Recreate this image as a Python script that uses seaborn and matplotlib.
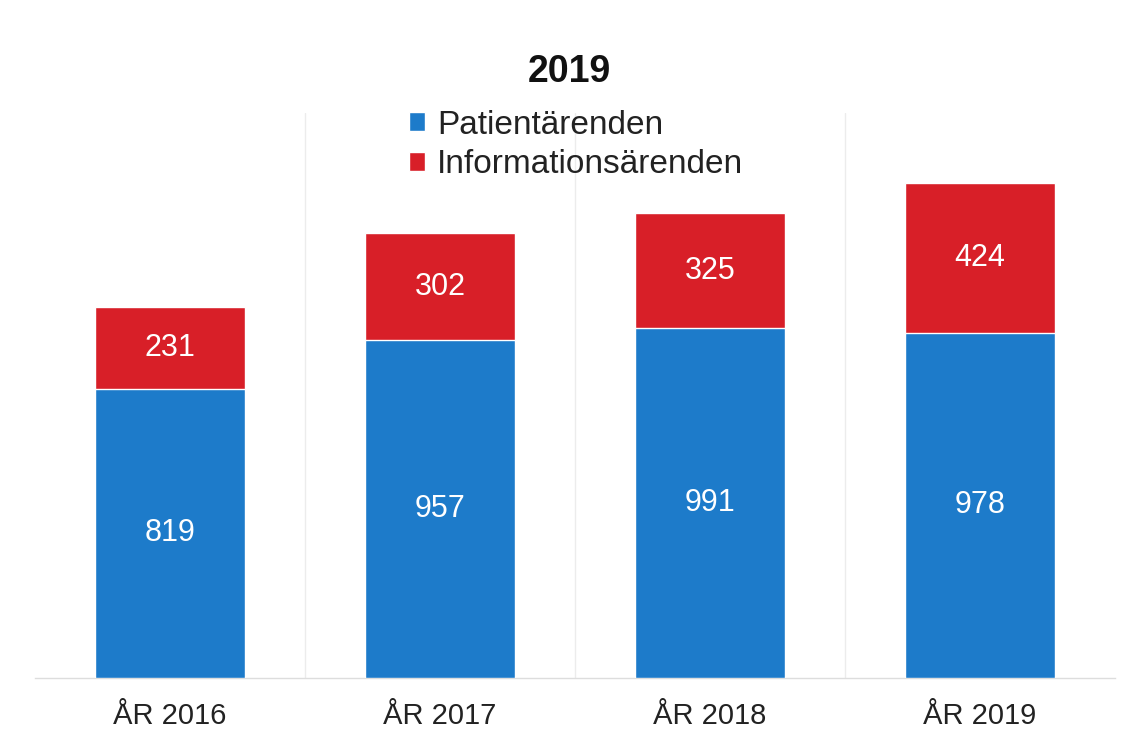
import numpy as np
import pandas as pd
import matplotlib
matplotlib.use("Agg")
import matplotlib.pyplot as plt
from matplotlib.patches import Patch
import seaborn as sns

# Data
years = ["ÅR 2016", "ÅR 2017", "ÅR 2018", "ÅR 2019"]
patient = [819, 957, 991, 978]
information = [231, 302, 325, 424]
series_names = ["Patientärenden", "Informationsärenden"]

BLUE = "#1d7bca"
RED = "#d81f28"

sns.set_theme(style="white")
plt.rcParams["font.family"] = ["Liberation Sans", "DejaVu Sans"]

df = pd.DataFrame({"year": years, "patient": patient, "information": information})
df["total"] = df["patient"] + df["information"]

fig = plt.figure(figsize=(11.28, 7.38), dpi=100)
ax = fig.add_axes([35 / 1128, 1 - 678 / 738, 1080 / 1128, 565 / 738])

# stacked bars: total (red) behind, patient (blue) in front
sns.barplot(data=df, x="year", y="total", color=RED, width=0.555,
            saturation=1, ax=ax, zorder=2)
sns.barplot(data=df, x="year", y="patient", color=BLUE, width=0.555,
            saturation=1, ax=ax, zorder=3)

ax.set_ylim(0, 1600)
ax.set_xlim(-0.5, len(years) - 0.5)
ax.set_xlabel("")
ax.set_ylabel("")
ax.set_yticks([])

# value labels
for i, row in df.iterrows():
    ax.text(i, row["patient"] / 2, f"{row['patient']}", color="white",
            ha="center", va="center", fontsize=22, zorder=4)
    ax.text(i, row["patient"] + row["information"] / 2, f"{row['information']}",
            color="white", ha="center", va="center", fontsize=22, zorder=4)

# faint category separators
ax.set_xticks(np.arange(len(years) - 1) + 0.5, minor=True)
ax.grid(False)
ax.grid(which="minor", axis="x", color="#ececec", linewidth=1)
ax.tick_params(axis="x", which="both", length=0)
ax.tick_params(axis="x", which="major", labelsize=21, pad=17, labelcolor="#222222")

for s in ["top", "left", "right"]:
    ax.spines[s].set_visible(False)
ax.spines["bottom"].set_color("#dddddd")
ax.spines["bottom"].set_linewidth(1)

fig.text(0.505, 1 - 72 / 738, "2019", ha="center", va="center",
         fontsize=27, fontweight="bold", color="#111111")

handles = [Patch(facecolor=BLUE, label=series_names[0]),
           Patch(facecolor=RED, label=series_names[1])]
fig.legend(handles=handles, loc="upper left",
           bbox_to_anchor=(392 / 1128, 1 - 93 / 738), frameon=False,
           fontsize=24, handlelength=0.5, handleheight=0.5,
           handletextpad=0.35, labelspacing=0.25, borderpad=0,
           labelcolor="#222222")

fig.savefig("out.png", dpi=100, facecolor="white")
